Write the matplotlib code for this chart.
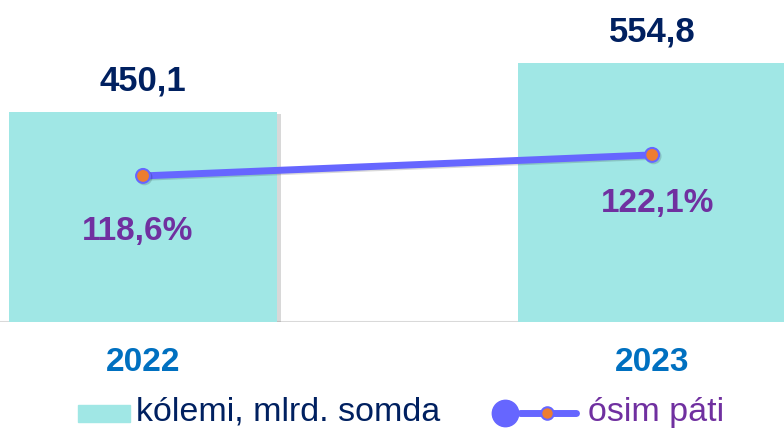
import matplotlib
matplotlib.use("Agg")
import matplotlib.pyplot as plt
import matplotlib.patheffects as pe
from matplotlib.lines import Line2D
from matplotlib.patches import Rectangle

years = ["2022", "2023"]
volume = [450.1, 554.8]          # kólemi, mlrd. somda
growth = [118.6, 122.1]          # ósim páti, %
volume_labels = ["450,1", "554,8"]
growth_labels = ["118,6%", "122,1%"]

bar_color = "#A0E7E5"
line_color = "#6666FF"
marker_color = "#ED7D31"
navy = "#002060"
purple = "#7030A0"
blue = "#0070C0"

plt.rcParams["font.family"] = ["Liberation Sans", "DejaVu Sans"]

fig = plt.figure(figsize=(7.84, 4.30), dpi=100)
ax = fig.add_axes([0, 1 - 322 / 430, 1, 322 / 430])
ax2 = ax.twinx()

x = list(range(len(years)))
shadow = [pe.SimplePatchShadow(offset=(2.5, -1.5), shadow_rgbFace="gray", alpha=0.3), pe.Normal()]
bars = ax.bar(x, volume, width=0.528, color=bar_color, zorder=2)
for b in bars:
    b.set_path_effects(shadow)

ax.set_xlim(-0.281, 1.259)
ax.set_ylim(0, 689)
ax2.set_ylim(94.27, 147.9)

ax2.plot(x, growth, color=line_color, lw=5, solid_capstyle="round",
         marker="o", markersize=10, markerfacecolor=marker_color,
         markeredgecolor=line_color, markeredgewidth=1.5, zorder=3,
         path_effects=[pe.SimpleLineShadow(offset=(1, -1), alpha=0.15), pe.Normal()])

for i in x:
    ax.annotate(volume_labels[i], (i, volume[i]), xytext=(0, 22), textcoords="offset points",
                ha="center", va="center", fontsize=25, fontweight="bold", color=navy)
    ax.annotate(years[i], (i, 0), xytext=(0, -29), textcoords="offset points",
                ha="center", va="center", fontsize=24, fontweight="bold", color=blue,
                annotation_clip=False)

ax2.annotate(growth_labels[0], (x[0], growth[0]), xytext=(-4, -40), textcoords="offset points",
             ha="center", va="center", fontsize=24, fontweight="bold", color=purple)
ax2.annotate(growth_labels[1], (x[1], growth[1]), xytext=(4, -35), textcoords="offset points",
             ha="center", va="center", fontsize=24, fontweight="bold", color=purple)

ax.axhline(0, color="#D9D9D9", lw=1.5, zorder=1)
for a in (ax, ax2):
    a.axis("off")

# legend drawn by hand, like the original
fig.add_artist(Rectangle((78 / 784, 1 - 422 / 430), 52 / 784, 17 / 430,
                         transform=fig.transFigure, color=bar_color))
fig.text(136 / 784, 1 - 412 / 430, "kólemi, mlrd. somda", fontsize=24.5, color=navy,
         ha="left", va="center")
fig.add_artist(Line2D([520 / 784, 576 / 784], [1 - 413 / 430] * 2, transform=fig.transFigure,
                      color=line_color, lw=5, solid_capstyle="round"))
fig.add_artist(Line2D([547 / 784], [1 - 413 / 430], transform=fig.transFigure, marker="o",
                      markersize=9, markerfacecolor=marker_color, markeredgecolor=line_color,
                      markeredgewidth=1.5))
fig.add_artist(Line2D([505 / 784], [1 - 413 / 430], transform=fig.transFigure, marker="o",
                      markersize=19, color=line_color))
fig.text(588 / 784, 1 - 412 / 430, "ósim páti", fontsize=24.5, color=purple,
         ha="left", va="center")

fig.savefig("out.png", dpi=100)
